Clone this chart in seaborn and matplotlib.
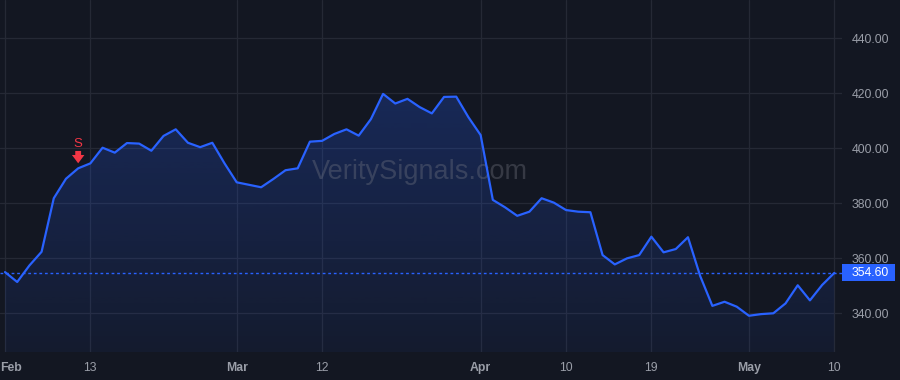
import numpy as np
import pandas as pd
import matplotlib
matplotlib.use("Agg")
import matplotlib.pyplot as plt
import matplotlib.transforms as mtransforms
from matplotlib.patches import Rectangle
import seaborn as sns

# ---------------- data ----------------
holidays = ["2024-02-19", "2024-03-29"]
dates = [d for d in pd.bdate_range("2024-02-02", "2024-05-10") if d.strftime("%Y-%m-%d") not in holidays]
prices = [
    354.9, 351.3, 357.3, 362.3, 381.8, 388.9, 392.7, 394.5, 400.2, 398.4,
    401.9, 401.7, 399.1, 404.5, 406.9, 402.0, 400.4, 402.0, 394.5, 387.6,
    386.7, 385.8, 388.8, 392.0, 392.7, 402.4, 402.7, 405.2, 406.9, 404.6,
    410.6, 419.8, 416.3, 418.0, 415.0, 412.7, 418.7, 418.8, 411.3, 404.8,
    381.2, 378.5, 375.4, 376.9, 381.8, 380.2, 377.5, 376.9, 376.7, 361.1,
    357.7, 359.9, 361.1, 367.8, 362.1, 363.3, 367.6, 353.5, 342.6, 344.1,
    342.3, 339.0, 339.6, 339.9, 343.5, 350.1, 344.6, 350.2, 354.6,
]
last_price = 354.60
tick_dates = ["2024-02-02", "2024-02-13", "2024-03-01", "2024-03-12", "2024-04-01",
              "2024-04-10", "2024-04-19", "2024-05-01", "2024-05-10"]
tick_labels = ["Feb", "13", "Mar", "12", "Apr", "10", "19", "May", "10"]
month_labels = {"Feb", "Mar", "Apr", "May"}
y_ticks = [340, 360, 380, 400, 420, 440]
signal_date = "2024-02-12"
signal_label = "S"

df = pd.DataFrame({"date": dates, "price": prices})
df["idx"] = np.arange(len(df))
date_to_idx = {d.strftime("%Y-%m-%d"): i for i, d in enumerate(dates)}

# ---------------- style ----------------
BG = "#131722"
GRID = "#252935"
LINE = "#2962ff"
TXT = "#9a9ea8"
RED = "#f23645"

sns.set_theme(style="dark")
plt.rcParams["font.family"] = ["Liberation Sans", "DejaVu Sans"]

fig = plt.figure(figsize=(9, 3.8), dpi=100, facecolor=BG)
ax = fig.add_axes([0, 1 - 352 / 380, 842 / 900, 352 / 380])
ax.set_facecolor(BG)

xmin, xmax = -0.41, 68.63
ymin, ymax = 325.8, 454.0
ax.set_xlim(xmin, xmax)
ax.set_ylim(ymin, ymax)

# gradient fill under the line
poly = ax.fill_between(df["idx"], df["price"], ymin, color="none", lw=0)
top = max(prices)
grad = np.linspace(0.06, 0.24, 256).reshape(-1, 1)
rgba = np.zeros((256, 1, 4))
rgba[..., 0] = 0x29 / 255
rgba[..., 1] = 0x62 / 255
rgba[..., 2] = 0xff / 255
rgba[..., 3] = grad
im = ax.imshow(rgba, extent=[xmin, xmax, ymin, top], origin="lower", aspect="auto", zorder=1)
im.set_clip_path(poly.get_paths()[0], transform=ax.transData)

sns.lineplot(data=df, x="idx", y="price", ax=ax, color=LINE, lw=1.6, zorder=3)

# last-price dotted line
ax.axhline(last_price, color=LINE, lw=1.0, ls=(0, (2, 2)), zorder=2)

# grid
tick_pos = [date_to_idx[d] for d in tick_dates]
ax.set_xticks(tick_pos)
ax.set_yticks(y_ticks)
ax.grid(True, color=GRID, lw=0.9)
for s in ax.spines.values():
    s.set_visible(False)

ax.set_xlabel("")
ax.set_ylabel("")
ax.yaxis.tick_right()
ax.set_yticklabels([f"{v:.2f}" for v in y_ticks])
ax.tick_params(axis="y", length=0, pad=7, labelsize=8.8, labelcolor=TXT)
ax.set_xticklabels(tick_labels)
ax.tick_params(axis="x", length=0, pad=7.5, labelsize=8.8, labelcolor=TXT)
for lab in ax.get_xticklabels():
    if lab.get_text() in month_labels:
        lab.set_fontweight("bold")
first = ax.get_xticklabels()[0]
first.set_ha("left")
first.set_transform(first.get_transform() + mtransforms.ScaledTranslation(-5 / 100, 0, fig.dpi_scale_trans))

# watermark
ax.text(0.4988, 0.511, "VeritySignals.com", transform=ax.transAxes, ha="center", va="center",
        fontsize=19.5, color="#787b86", alpha=0.35, zorder=2)

# signal marker
si = date_to_idx[signal_date]
sy = prices[si]
ax.annotate("", xy=(si, sy), xytext=(0, 12.5), textcoords="offset points",
            arrowprops=dict(arrowstyle="simple,head_length=0.5,head_width=0.75,tail_width=0.35",
                            color=RED, lw=0, shrinkA=0, shrinkB=3.6), zorder=5)
ax.annotate(signal_label, xy=(si, sy), xytext=(0, 17.5), textcoords="offset points",
            ha="center", va="center", color=RED, fontsize=9.5, zorder=5)

# price tag on the right axis
trans = mtransforms.blended_transform_factory(ax.transAxes, ax.transData)
h = 17 * (ymax - ymin) / 352
ax.add_patch(Rectangle((1.0, last_price - h / 2), 53 / 842, h, transform=trans,
                       facecolor=LINE, edgecolor="none", clip_on=False, zorder=6))
ax.text(1.0 + 10 / 842, last_price, f"{last_price:.2f}", transform=trans, ha="left", va="center",
        color="white", fontsize=8.8, clip_on=False, zorder=7)

fig.savefig("out.png", dpi=100, facecolor=BG)
